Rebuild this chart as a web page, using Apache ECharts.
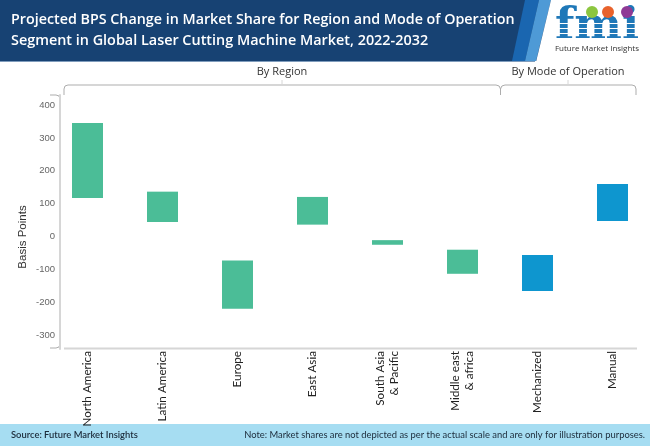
<!DOCTYPE html>
<html>
<head>
<meta charset="utf-8">
<style>html,body{margin:0;padding:0;background:#fff}#chart{width:650px;height:446px}</style>
<script src="https://cdn.jsdelivr.net/npm/echarts@6/dist/echarts.min.js"></script>
</head>
<body>
<div id="chart"></div>
<script>
const categories = ['North America', 'Latin America', 'Europe', 'East Asia', 'South Asia\n& Pacific', 'Middle east\n& africa', 'Mechanized', 'Manual'];
const lowValues = [118, 45, -218, 37, -24, -112, -164, 48];
const highValues = [345, 137, -72, 121, -10, -39, -55, 160];
const barColors = ['#4bbd97', '#4bbd97', '#4bbd97', '#4bbd97', '#4bbd97', '#4bbd97', '#0e96cf', '#0e96cf'];
const yTicks = [400, 300, 200, 100, 0, -100, -200, -300];

const font = '"Open Sans"';
const grey = '#adadad';
const axisGrey = '#d6d6d6';

// bars float, so an invisible base sits under each one
const baseValues = lowValues.map((low, i) => (low >= 0 ? low : highValues[i]));
const spanValues = lowValues.map((low, i) => (low >= 0 ? highValues[i] - low : low - highValues[i]));

const line = (x1, y1, x2, y2, color, w) => ({
  type: 'line', shape: { x1, y1, x2, y2 },
  style: { stroke: color || grey, lineWidth: w || 1 }
});
const curve = (x1, y1, cpx1, cpy1, x2, y2) => ({
  type: 'bezierCurve', shape: { x1, y1, cpx1, cpy1, x2, y2 },
  style: { fill: 'none', stroke: grey, lineWidth: 1 }
});
const label = (text, x, y, size, color, weight, align, family) => ({
  type: 'text', x, y,
  style: { text, fill: color, font: (weight || 'normal') + ' ' + size + 'px ' + (family || font), textAlign: align || 'left', textVerticalAlign: 'middle' }
});
const poly = (points, fill) => ({ type: 'polygon', shape: { points }, style: { fill } });
const rect = (x, y, width, height, fill) => ({ type: 'rect', shape: { x, y, width, height }, style: { fill } });

const chart = echarts.init(document.getElementById('chart'), null, { renderer: 'canvas' });
chart.setOption({
  animation: false,
  backgroundColor: '#fff',
  grid: { left: 50, top: 95, width: 600, height: 254 },
  xAxis: {
    type: 'category',
    data: categories,
    axisLine: { show: false },
    axisTick: { show: false },
    axisLabel: { rotate: 90, interval: 0, margin: 2, align: 'right', fontFamily: 'Lato', fontSize: 11.7, color: '#222', lineHeight: 14 }
  },
  yAxis: {
    type: 'value',
    min: -340,
    max: 430,
    offset: -10,
    name: 'Basis Points',
    nameLocation: 'middle',
    nameGap: 31,
    nameMoveOverlap: false,
    nameTextStyle: { fontFamily: '"Liberation Sans"', fontSize: 11.5, color: '#333', padding: [0, 30, 0, 0] },
    splitLine: { show: false },
    axisTick: { show: false },
    axisLine: { show: true, lineStyle: { color: axisGrey, width: 2 } },
    axisLabel: { customValues: yTicks, margin: 5, fontFamily: '"Liberation Sans"', fontSize: 9.5, color: '#666' }
  },
  series: [
    { type: 'bar', stack: 'range', barWidth: 31, silent: true, itemStyle: { color: 'transparent' }, data: baseValues },
    {
      type: 'bar', stack: 'range', barWidth: 31, silent: true,
      data: spanValues.map((v, i) => ({ value: v, itemStyle: { color: barColors[i] } }))
    }
  ],
  graphic: [
    rect(0, 0, 650, 61, '#174273'),
    rect(0, 61, 535, 1, '#7f9cbc'),
    poly([[525, 0], [539, 0], [525, 61], [512, 61]], '#1a66b0'),
    poly([[539, 0], [551, 0], [536, 61], [525, 61]], '#4e9ad6'),
    poly([[551, 0], [650, 0], [650, 62], [536, 62]], '#fff'),
    label('Projected BPS Change in Market Share for Region and Mode of Operation', 11, 20, 14.3, '#fff', '600'),
    label('Segment in Global Laser Cutting Machine Market, 2022-2032', 11, 41, 14.4, '#fff', '600'),

    // logo
    { type: 'text', x: 597, y: 27, style: { text: 'fmi', fill: '#1f78b8', font: 'bold 45px "DejaVu Serif"', textAlign: 'center', textVerticalAlign: 'middle' } },
    rect(552, 23, 92, 1, '#fff'), rect(552, 28, 92, 1, '#fff'), rect(552, 33, 92, 1, '#fff'), rect(552, 38, 92, 1, '#fff'),
    { type: 'circle', shape: { cx: 592, cy: 12, r: 6 }, style: { fill: '#8cc63f' } },
    { type: 'circle', shape: { cx: 608, cy: 12, r: 6 }, style: { fill: '#e8622c' } },
    { type: 'circle', shape: { cx: 627, cy: 12, r: 6 }, style: { fill: '#8e3a96' } },
    label('Future Market Insights', 597, 49, 8, '#333', 'normal', 'center'),

    // group brackets
    label('By Region', 282, 72, 11, '#333', 'normal', 'center'),
    label('By Mode of Operation', 568, 72, 11, '#333', 'normal', 'center'),
    line(64, 89, 64, 95),
    curve(64, 89, 64, 85, 68, 85),
    line(68, 85, 496, 85),
    curve(496, 85, 500, 85, 500.5, 89),
    curve(500.5, 89, 501, 85, 505, 85),
    line(505, 85, 632, 85),
    curve(632, 85, 636, 85, 636, 89),
    line(636, 89, 636, 95),
    line(500.5, 89, 500.5, 95),
    line(282, 80, 282, 85, axisGrey),
    line(568, 80, 568, 85, axisGrey),
    line(50, 95, 56, 95),
    curve(56, 95, 60, 95, 60, 99),
    line(50, 348, 56, 348),
    curve(56, 348, 60, 348, 60, 344),
    line(64, 348.5, 637, 348.5, axisGrey, 2),

    // footer
    rect(0, 424, 650, 22, '#a6ddf2'),
    label('Source: Future Market Insights', 11, 435, 9.4, '#1c2b3a', '600', 'left', 'Lato'),
    label('Note: Market shares are not depicted as per the actual scale and are only for illustration purposes.', 645, 435, 9.4, '#1c2b3a', 'normal', 'right', 'Lato')
  ]
});
</script>
</body>
</html>
